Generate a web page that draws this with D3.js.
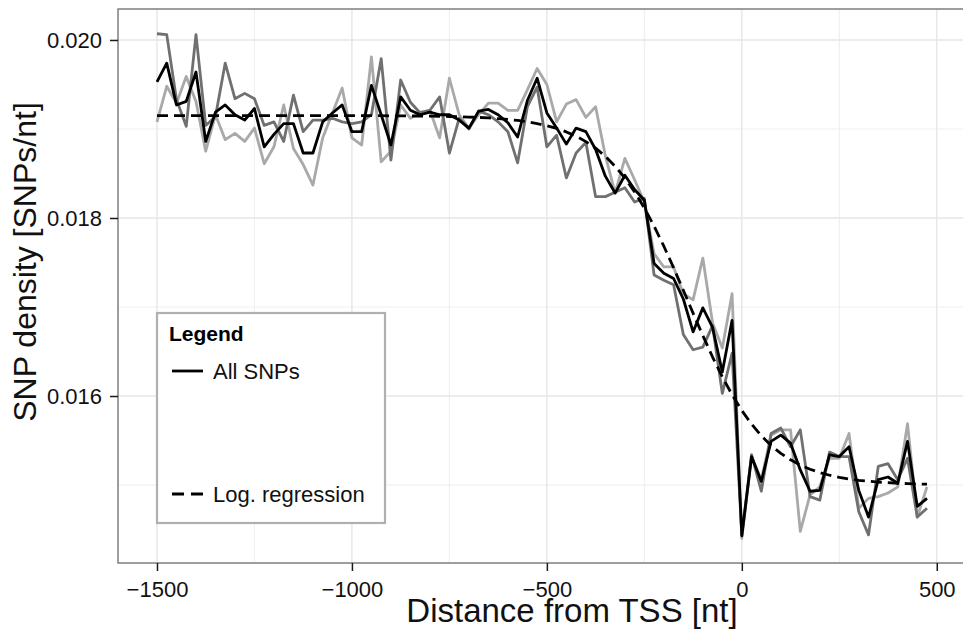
<!DOCTYPE html>
<html>
<head>
<meta charset="utf-8">
<script src="https://cdn.jsdelivr.net/npm/d3@7"></script>
<style>
  body { margin: 0; background: #fff; overflow: hidden; }
  text { font-family: "Liberation Sans", Arial, Helvetica, sans-serif; }
</style>
</head>
<body>
<div id="chart"></div>
<script>
// distance from TSS (nt), one point every 25 nt
const distances = [
  -1500, -1475, -1450, -1425, -1400, -1375, -1350, -1325, -1300, -1275,
  -1250, -1225, -1200, -1175, -1150, -1125, -1100, -1075, -1050, -1025,
  -1000, -975, -950, -925, -900, -875, -850, -825, -800, -775,
  -750, -725, -700, -675, -650, -625, -600, -575, -550, -525,
  -500, -475, -450, -425, -400, -375, -350, -325, -300, -275,
  -250, -225, -200, -175, -150, -125, -100, -75, -50, -25,
  0, 25, 50, 75, 100, 125, 150, 175, 200, 225,
  250, 275, 300, 325, 350, 375, 400, 425, 450, 475
];

// All SNPs (black)
const allSnps = [
  0.01953, 0.01974, 0.01927, 0.01931, 0.01964, 0.01886, 0.01919, 0.01927, 0.01916, 0.01910,
  0.01923, 0.01880, 0.01894, 0.01906, 0.01906, 0.01873, 0.01873, 0.01908, 0.01918, 0.01927,
  0.01897, 0.01897, 0.01949, 0.01916, 0.01882, 0.01936, 0.01921, 0.01916, 0.01919, 0.01916,
  0.01916, 0.01910, 0.01901, 0.01920, 0.01922, 0.01916, 0.01907, 0.01891, 0.01932, 0.01957,
  0.01918, 0.01901, 0.01883, 0.01901, 0.01897, 0.01877, 0.01847, 0.01828, 0.01848, 0.01832,
  0.01820, 0.01749, 0.01738, 0.01732, 0.01709, 0.01672, 0.01699, 0.01677, 0.01627, 0.01685,
  0.01443, 0.01532, 0.01504, 0.01549, 0.01556, 0.01547, 0.01517, 0.01493, 0.01494, 0.01534,
  0.01532, 0.01543, 0.01494, 0.01464, 0.01506, 0.01509, 0.01502, 0.01549, 0.01476, 0.01485
];

// subset series (dark grey)
const subsetDark = [
  0.02007, 0.02006, 0.01933, 0.01903, 0.02006, 0.01904, 0.01914, 0.01974, 0.01934, 0.01940,
  0.01934, 0.01904, 0.01908, 0.01886, 0.01938, 0.01897, 0.01910, 0.01910, 0.01912, 0.01908,
  0.01906, 0.01908, 0.01916, 0.01979, 0.01865, 0.01955, 0.01930, 0.01918, 0.01921, 0.01936,
  0.01873, 0.01912, 0.01900, 0.01920, 0.01916, 0.01908, 0.01897, 0.01862, 0.01925, 0.01947,
  0.01880, 0.01893, 0.01845, 0.01873, 0.01885, 0.01824, 0.01824, 0.01829, 0.01834, 0.01818,
  0.01822, 0.01736, 0.01730, 0.01725, 0.01669, 0.01652, 0.01655, 0.01679, 0.01603, 0.01648,
  0.01444, 0.01534, 0.01493, 0.01558, 0.01564, 0.01543, 0.01562, 0.01487, 0.01483, 0.01537,
  0.01532, 0.01532, 0.01470, 0.01444, 0.01521, 0.01524, 0.01506, 0.01530, 0.01464, 0.01474
];

// subset series (light grey)
const subsetLight = [
  0.01908, 0.01948, 0.01929, 0.01959, 0.01931, 0.01875, 0.01916, 0.01888, 0.01895, 0.01886,
  0.01901, 0.01861, 0.01880, 0.01927, 0.01878, 0.01860, 0.01837, 0.01890, 0.01918, 0.01946,
  0.01890, 0.01882, 0.01981, 0.01863, 0.01875, 0.01927, 0.01912, 0.01919, 0.01921, 0.01890,
  0.01957, 0.01916, 0.01901, 0.01916, 0.01929, 0.01929, 0.01921, 0.01921, 0.01944, 0.01968,
  0.01950, 0.01908, 0.01928, 0.01933, 0.01913, 0.01925, 0.01870, 0.01828, 0.01867, 0.01843,
  0.01818, 0.01760, 0.01745, 0.01745, 0.01715, 0.01708, 0.01755, 0.01682, 0.01654, 0.01715,
  0.01440, 0.01532, 0.01506, 0.01556, 0.01562, 0.01562, 0.01448, 0.01489, 0.01498, 0.01530,
  0.01530, 0.01558, 0.01474, 0.01485, 0.01487, 0.01491, 0.01498, 0.01569, 0.01464, 0.01498
];

// logistic regression curve
const logRegression = [
  0.019150, 0.019150, 0.019150, 0.019150, 0.019150, 0.019150, 0.019150, 0.019150, 0.019150, 0.019150,
  0.019150, 0.019150, 0.019150, 0.019150, 0.019150, 0.019150, 0.019150, 0.019150, 0.019150, 0.019150,
  0.019150, 0.019150, 0.019149, 0.019149, 0.019148, 0.019147, 0.019146, 0.019145, 0.019144, 0.019142,
  0.019140, 0.019137, 0.019134, 0.019130, 0.019124, 0.019116, 0.019107, 0.019096, 0.019080, 0.019061,
  0.019037, 0.019007, 0.018967, 0.018919, 0.018858, 0.018785, 0.018693, 0.018581, 0.018450, 0.018294,
  0.018113, 0.017908, 0.017683, 0.017441, 0.017188, 0.016931, 0.016679, 0.016438, 0.016216, 0.016014,
  0.015837, 0.015684, 0.015553, 0.015445, 0.015356, 0.015284, 0.015224, 0.015177, 0.015140, 0.015110,
  0.015086, 0.015068, 0.015053, 0.015042, 0.015033, 0.015026, 0.015020, 0.015016, 0.015012, 0.015010
];

const xTicks = [-1500, -1000, -500, 0, 500];
const xMinor = [-1250, -750, -250, 250];
const yTicks = [0.016, 0.018, 0.020];
const yMinor = [0.015, 0.017, 0.019];

const legendLabels = ["All SNPs", "Log. regression"];

const width = 963, height = 629;
// the panel runs off the right edge of the picture
const panel = {left: 118, top: 9, right: 966, bottom: 563};

const svg = d3.select("#chart").append("svg")
    .attr("width", width)
    .attr("height", height)
    .style("display", "block");

const x = d3.scaleLinear()
    .domain([-1600, 575])
    .range([panel.left, panel.right]);

const y = d3.scaleLinear()
    .domain([0.014124, 0.020348])
    .range([panel.bottom, panel.top]);

// grid
const grid = svg.append("g");
grid.selectAll("line.hminor").data(yMinor).enter().append("line")
    .attr("x1", panel.left).attr("x2", panel.right)
    .attr("y1", y).attr("y2", y)
    .attr("stroke", "#f0f0f0").attr("stroke-width", 1.2);
grid.selectAll("line.vminor").data(xMinor).enter().append("line")
    .attr("y1", panel.top).attr("y2", panel.bottom)
    .attr("x1", x).attr("x2", x)
    .attr("stroke", "#f0f0f0").attr("stroke-width", 1.2);
grid.selectAll("line.hmajor").data(yTicks).enter().append("line")
    .attr("x1", panel.left).attr("x2", panel.right)
    .attr("y1", y).attr("y2", y)
    .attr("stroke", "#e6e6e6").attr("stroke-width", 1.4);
grid.selectAll("line.vmajor").data(xTicks).enter().append("line")
    .attr("y1", panel.top).attr("y2", panel.bottom)
    .attr("x1", x).attr("x2", x)
    .attr("stroke", "#e6e6e6").attr("stroke-width", 1.4);

// series lines
const line = d3.line()
    .x((d, i) => x(distances[i]))
    .y(d => y(d));

const series = [
    {values: subsetLight, color: "#a9a9a9", dash: null},
    {values: subsetDark, color: "#707070", dash: null},
    {values: allSnps, color: "#000000", dash: null},
    {values: logRegression, color: "#000000", dash: "11,6"}
];

svg.append("g").selectAll("path").data(series).enter().append("path")
    .attr("d", d => line(d.values))
    .attr("fill", "none")
    .attr("stroke", d => d.color)
    .attr("stroke-width", 2.8)
    .attr("stroke-linejoin", "round")
    .attr("stroke-dasharray", d => d.dash);

// panel border: top, left, bottom (right side is cut off)
svg.append("path")
    .attr("d", "M" + width + "," + panel.top + "H" + panel.left +
        "V" + panel.bottom + "H" + width)
    .attr("fill", "none")
    .attr("stroke", "#7f7f7f")
    .attr("stroke-width", 1.5);

// axes
const yAxis = svg.append("g")
    .attr("transform", "translate(" + panel.left + ",0)")
    .call(d3.axisLeft(y).tickValues(yTicks).tickFormat(d3.format(".3f")).tickSize(8).tickPadding(8));

const xAxis = svg.append("g")
    .attr("transform", "translate(0," + panel.bottom + ")")
    .call(d3.axisBottom(x).tickValues(xTicks).tickFormat(d3.format("d")).tickSize(8).tickPadding(10));

[xAxis, yAxis].forEach(function (ax) {
    ax.select(".domain").remove();
    ax.selectAll(".tick line").attr("stroke", "#1a1a1a").attr("stroke-width", 1.5);
    ax.selectAll(".tick text")
        .attr("fill", "#111")
        .style("font-size", "22px")
        .style("font-family", "'Liberation Sans', Arial, sans-serif");
});

// axis titles
svg.append("text")
    .attr("x", 572)
    .attr("y", 622)
    .attr("text-anchor", "middle")
    .style("font-size", "33px")
    .attr("fill", "#111")
    .text("Distance from TSS [nt]");

svg.append("text")
    .attr("transform", "translate(36,262) rotate(-90)")
    .attr("text-anchor", "middle")
    .style("font-size", "32px")
    .attr("fill", "#111")
    .text("SNP density [SNPs/nt]");

// legend box
const legend = svg.append("g").attr("transform", "translate(157,313)");

legend.append("rect")
    .attr("width", 228).attr("height", 210)
    .attr("fill", "#fff")
    .attr("stroke", "#b0b0b0")
    .attr("stroke-width", 2.2);

legend.append("text")
    .attr("x", 12).attr("y", 28)
    .style("font-size", "21px")
    .style("font-weight", "bold")
    .text("Legend");

const legendRows = [
    {label: legendLabels[0], dash: null, y: 58},
    {label: legendLabels[1], dash: "12,7", y: 181}
];

legendRows.forEach(function (r) {
    legend.append("line")
        .attr("x1", 15).attr("x2", 46)
        .attr("y1", r.y).attr("y2", r.y)
        .attr("stroke", "#000")
        .attr("stroke-width", 2.8)
        .attr("stroke-dasharray", r.dash);
    legend.append("text")
        .attr("x", 56).attr("y", r.y + 8)
        .style("font-size", "22px")
        .attr("fill", "#111")
        .text(r.label);
});
</script>
</body>
</html>
